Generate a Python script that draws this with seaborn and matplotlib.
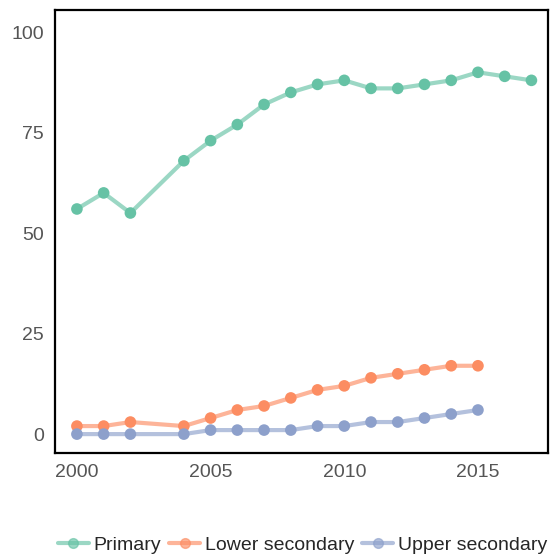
import pandas as pd
import matplotlib.pyplot as plt
import seaborn as sns
from matplotlib.lines import Line2D

# values
years_primary = [2000, 2001, 2002, 2004, 2005, 2006, 2007, 2008, 2009, 2010,
                 2011, 2012, 2013, 2014, 2015, 2016, 2017]
primary = [56, 60, 55, 68, 73, 77, 82, 85, 87, 88, 86, 86, 87, 88, 90, 89, 88]

years_sec = [2000, 2001, 2002, 2004, 2005, 2006, 2007, 2008, 2009, 2010,
             2011, 2012, 2013, 2014, 2015]
lower_secondary = [2, 2, 3, 2, 4, 6, 7, 9, 11, 12, 14, 15, 16, 17, 17]
upper_secondary = [0, 0, 0, 0, 1, 1, 1, 1, 2, 2, 3, 3, 4, 5, 6]

series = ['Primary', 'Lower secondary', 'Upper secondary']
colors = ['#66c2a5', '#fc8d62', '#8da0cb']

df = pd.concat([
    pd.DataFrame({'year': years_primary, 'value': primary, 'level': 'Primary'}),
    pd.DataFrame({'year': years_sec, 'value': lower_secondary, 'level': 'Lower secondary'}),
    pd.DataFrame({'year': years_sec, 'value': upper_secondary, 'level': 'Upper secondary'}),
])

sns.set_style('white')
plt.rcParams['font.family'] = ['Liberation Sans', 'DejaVu Sans']

fig = plt.figure(figsize=(5.52, 5.55), dpi=100)
ax = fig.add_axes([55 / 552, 1 - 453 / 555, 493 / 552, 443 / 555])

for name, col in zip(series, colors):
    d = df[df['level'] == name]
    sns.lineplot(data=d, x='year', y='value', ax=ax, color=col, alpha=0.65,
                 linewidth=3, legend=False)
    sns.scatterplot(data=d, x='year', y='value', ax=ax, color=col, s=70,
                    edgecolor='none', legend=False, zorder=3)

ax.set_xlim(1999.18, 2017.62)
ax.set_ylim(-4.7, 105.5)
ax.set_xticks([2000, 2005, 2010, 2015])
ax.set_yticks([0, 25, 50, 75, 100])
ax.set_xlabel('')
ax.set_ylabel('')
ax.tick_params(axis='both', labelsize=14, labelcolor='#555555', length=0, pad=8)
for sp in ax.spines.values():
    sp.set_color('black')
    sp.set_linewidth(1.6)

handles = [Line2D([0], [0], color=c, lw=3, alpha=0.65, marker='o', markersize=7,
                  markerfacecolor=c, markeredgecolor=c) for c in colors]
fig.legend(handles, series, loc='center', bbox_to_anchor=(0.548, 1 - 545 / 555),
           ncol=3, frameon=False, fontsize=14, handlelength=1.6,
           handletextpad=0.25, columnspacing=0.4)

fig.savefig('out.png', dpi=100)
